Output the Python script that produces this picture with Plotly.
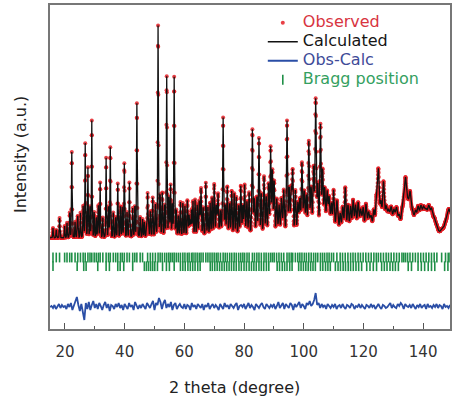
import numpy as np
import plotly.graph_objects as go

# ---------------- data ----------------
# Phase 1 reflections: 2theta (deg) and peak intensity (a.u.)
phase1_pos = [16.0, 17.1, 18.2, 19.9, 20.7, 21.6, 22.3, 23.4, 24.3, 25.2, 26.1, 26.8, 27.7, 28.4,
              29.0, 29.8, 30.5, 31.2, 31.8, 32.7, 33.8, 34.6, 35.2, 36.2, 37.0, 37.7, 38.6, 39.2,
              39.9, 40.8, 41.6, 42.7, 43.4, 44.1, 45.2, 46.0, 47.7, 48.6, 49.4, 50.3, 51.2, 51.9,
              52.6, 53.4, 54.1, 54.8, 55.4, 56.0, 56.6, 57.3, 58.0, 58.7, 59.5, 60.2, 61.0, 61.6,
              62.4, 62.9, 63.6, 64.3, 65.0, 65.6, 66.3, 67.2, 67.9, 68.6, 69.3, 70.0, 70.7, 71.3,
              72.1, 73.0, 73.7, 74.4, 75.2, 75.9, 76.7, 77.4, 78.2, 78.9, 79.6, 80.2, 81.0, 81.7,
              82.8, 83.5, 84.3, 85.0, 85.8, 86.7, 87.4, 88.2, 88.9, 89.5, 90.1, 90.9, 91.7, 92.5,
              93.3, 94.4, 95.1, 95.8, 96.3, 97.2, 98.0, 98.7, 99.4, 100.2, 100.9, 101.7, 102.5,
              103.3, 104.0, 104.7, 105.6, 106.3, 107.0, 107.8, 108.5, 109.3, 110.0, 111.1, 112.2,
              113.0, 113.9, 114.8, 115.7, 116.5, 117.3, 118.2, 119.0, 119.9, 120.8, 121.7, 122.6,
              123.5, 124.3, 125.0, 125.8, 126.7, 127.6, 128.4, 129.3, 130.2, 131.1, 132.0, 132.9,
              133.5, 134.1, 134.8, 135.6, 136.5, 137.4, 138.3, 139.2, 140.1, 141.0, 141.9, 142.8,
              143.7, 144.6, 146.2, 147.5, 148.4, 149.0]
phase1_int = [60, 80, 200, 120, 150, 250, 860, 160, 200, 250, 300, 940, 700, 300,
              1170, 250, 200, 300, 550, 200, 760, 300, 900, 250, 200, 500, 220, 300,
              730, 250, 550, 250, 300, 1340, 200, 180, 430, 200, 250, 300, 2100, 400,
              350, 300, 1570, 350, 500, 300, 1550, 250, 200, 280, 200, 250, 330, 200,
              250, 300, 250, 280, 330, 460, 280, 530, 280, 230, 330, 480, 280, 400,
              230, 1170, 280, 440, 280, 330, 370, 280, 230, 440, 280, 470, 280, 330,
              1040, 280, 330, 900, 280, 520, 280, 420, 860, 620, 520, 280, 250, 330,
              420, 1090, 380, 420, 590, 430, 280, 320, 680, 370, 320, 880, 370,
              580, 1290, 450, 1010, 500, 400, 360, 320, 270, 420, 300, 150,
              200, 400, 200, 200, 240, 220, 260, 200, 230, 250, 180, 130,
              170, 250, 600, 250, 450, 200, 180, 200, 180, 200, 130, 170,
              200, 470, 200, 350, 160, 190, 170, 200, 190, 170, 200, 170,
              100, 60, 40, 60, 120, 150]

# Phase 2 reflections
phase2_pos = [16.0, 24.1, 26.3, 27.1, 31.0, 33.8, 34.9, 37.7, 38.5, 39.7, 42.7, 46.6, 47.3, 48.0,
              48.7, 49.4, 50.1, 51.0, 52.7, 54.0, 55.0, 56.6, 58.7, 59.5, 60.3, 61.2, 62.0, 62.8,
              63.6, 64.5, 65.3, 68.7, 69.4, 70.2, 71.0, 71.8, 72.6, 73.4, 74.2, 75.0, 75.8, 76.6,
              77.4, 78.3, 79.1, 80.0, 80.8, 81.7, 82.5, 83.3, 84.1, 85.0, 85.8, 86.6, 87.5, 88.3,
              91.1, 91.9, 92.8, 93.6, 94.4, 95.3, 96.1, 98.3, 99.1, 99.9, 100.7, 101.5, 102.3,
              103.1, 103.9, 105.6, 106.4, 107.3, 108.1, 108.9, 110.6, 111.5, 112.3, 113.2, 114.0,
              114.9, 115.7, 116.6, 117.5, 118.4, 119.4, 121.1, 122.2, 123.3, 124.4, 126.1, 127.0,
              127.9, 128.9, 129.8, 130.7, 131.7, 135.0, 136.1, 138.3, 139.4, 140.5, 141.7, 142.8,
              143.9, 147.2, 148.3]
phase2_int = [40, 120, 90, 60, 110, 40, 50, 40, 130, 60, 40, 150, 90, 120,
              80, 140, 60, 40, 120, 40, 90, 40, 60, 130, 70, 90, 150, 60,
              110, 80, 130, 120, 60, 90, 130, 70, 110, 60, 120, 90, 140, 60,
              100, 80, 120, 70, 110, 90, 60, 130, 80, 60, 120, 70, 110, 90,
              130, 80, 110, 60, 40, 120, 70, 100, 60, 130, 80, 60, 110,
              90, 40, 60, 120, 80, 110, 70, 60, 80, 40, 70, 50,
              70, 50, 80, 60, 40, 70, 50, 70, 50, 60, 40, 60,
              50, 70, 40, 60, 40, 50, 40, 60, 40, 50, 40, 40,
              30, 30, 40]

# Background level under the pattern
bg_angle = [15, 25, 35, 45, 55, 65, 75, 85, 95, 105, 115, 125, 135, 145, 150]
bg_int = [20, 15, 15, 20, 25, 30, 30, 35, 35, 40, 60, 60, 60, 50, 50]

# Obs - Calc difference, every 0.5 deg from 15 to 149
diff_start, diff_step = 15.0, 0.5
diff_vals = [0, 10, -10, 20, -20, 10, 30, -10, 20, 0,
             10, -20, 30, 0, 40, -30, 20, 60, 100, 20,
             -40, 30, -60, -130, 40, -20, 50, -30, 20, 60,
             -10, 30, -20, 40, 10, -30, 20, 50, -10, 30,
             -40, 20, 10, -20, 30, 0, 40, -10, 20, -30,
             30, 10, -20, 40, 0, 20, -30, 50, 10, -20,
             20, -10, 30, 0, -20, 40, 20, -10, 30, 60,
             -30, 40, 20, 90, 50, -20, 40, 70, -10, 30,
             0, 50, -30, 20, 40, -20, 10, 30, 0, -10,
             30, -20, 20, 10, -30, 40, 0, 20, -20, 30,
             10, -10, 30, -30, 20, 0, 40, -20, 10, 30,
             -10, 20, 0, -30, 30, 10, -20, 40, 0, 20,
             -20, 30, 10, -10, 20, 40, -30, 10, 20, 0,
             30, -20, 10, 40, -10, 20, 0, -30, 30, 10,
             -10, 20, 40, 0, -20, 30, 10, -10, 20, 0,
             30, -20, 10, 50, -10, 20, 40, -20, 30, 10,
             -10, 40, 20, -30, 30, 0, 20, 50, -10, 30,
             10, -20, 40, 20, 60, 10, 30, 70, 140, 20,
             40, -10, 30, 0, 20, -20, 30, 10, -10, 20,
             0, 30, -20, 10, 20, -10, 30, 0, -20, 20,
             10, -10, 30, 20, -20, 10, 0, 30, -10, 20,
             0, -20, 20, 10, -10, 30, 0, 20, -20, 10,
             30, 0, -20, 20, 10, -10, 0, 20, 40, -10,
             20, 0, -10, 30, 10, 40, 20, -20, 30, 10,
             0, 20, -10, 30, 10, -20, 20, 0, 30, -10,
             10, 20, -20, 30, 0, 10, -10, 20, 0, 30,
             -10, 20, 10, -20, 30, 0, 10, -10, 20]

# Caglioti profile parameters (U, V, W) and pseudo-Voigt mixing
U, V, W, ETA = 0.10, 0.0, 0.05, 0.3
DIFF_OFFSET = -670
BRAGG_ROW1, BRAGG_ROW2 = -175, -262
step = 0.05

# ---------------- profile model ----------------
tt = np.arange(15.0, 149.0 + 1e-9, step)
bg = np.interp(tt, bg_angle, bg_int)
calc = bg.copy()
for pos_list, int_list in ((phase1_pos, phase1_int), (phase2_pos, phase2_int)):
    for p, h in zip(pos_list, int_list):
        t = np.tan(np.radians(p / 2))
        H = np.sqrt(U * t * t + V * t + W)
        x = (tt - p) / H
        g = np.exp(-4 * np.log(2) * x * x)
        l = 1 / (1 + 4 * x * x)
        calc += h * (ETA * l + (1 - ETA) * g)

diff_x = diff_start + diff_step * np.arange(len(diff_vals))
diff_y = np.array(diff_vals) + DIFF_OFFSET

GREEN = "#1f8f47"
fig = go.Figure()
fig.add_trace(go.Scatter(
    x=tt, y=calc, mode="markers",
    marker=dict(color="#e41f26", size=4, opacity=0.85),
    name='<span style="color:#d8343f;font-size:16px">Observed</span>'))
fig.add_trace(go.Scatter(
    x=tt, y=calc, mode="lines", line=dict(color="#111111", width=1.3),
    name='<span style="color:#151515;font-size:16px">Calculated</span>'))
fig.add_trace(go.Scatter(
    x=diff_x, y=diff_y, mode="lines", line=dict(color="#2a4ea6", width=1.8),
    name='<span style="color:#3e4b98;font-size:16px">Obs-Calc</span>'))
fig.add_trace(go.Scatter(
    x=phase1_pos, y=[BRAGG_ROW1] * len(phase1_pos), mode="markers",
    marker=dict(symbol="line-ns-open", size=7, color=GREEN, line=dict(color=GREEN, width=1.6)),
    name='<span style="color:#34a060;font-size:16px">Bragg position</span>', legendgroup="bragg"))
fig.add_trace(go.Scatter(
    x=phase2_pos, y=[BRAGG_ROW2] * len(phase2_pos), mode="markers",
    marker=dict(symbol="line-ns-open", size=7, color=GREEN, line=dict(color=GREEN, width=1.6)),
    showlegend=False, legendgroup="bragg"))

fig.update_layout(
    width=455, height=404,
    margin=dict(l=50, r=3, t=5, b=75),
    paper_bgcolor="white", plot_bgcolor="white",
    font=dict(family="DejaVu Sans", size=15, color="#222"),
    showlegend=True,
    legend=dict(x=0.532, xanchor="left", y=0.99, yanchor="top",
                bgcolor="rgba(0,0,0,0)", borderwidth=0,
                font=dict(size=11.5, family="DejaVu Sans"),
                tracegroupgap=0, itemwidth=30),
    xaxis=dict(range=[15, 149], tickmode="linear", tick0=20, dtick=20,
               ticks="inside", ticklen=6, tickcolor="#555", tickwidth=1,
               showline=True, linecolor="#777", linewidth=1.5, mirror=True,
               showgrid=False, zeroline=False, ticklabelstandoff=8,
               tickfont=dict(size=15, color="#333"),
               minor=dict(ticks="inside", dtick=10, ticklen=3, tickcolor="#555", showgrid=False)),
    yaxis=dict(range=[-890, 2350], showticklabels=False, ticks="",
               showline=True, linecolor="#777", linewidth=1.5, mirror=True,
               showgrid=False, zeroline=False),
    annotations=[
        dict(text="Intensity (a.u.)", xref="paper", yref="paper", x=-0.075, y=0.537,
             xanchor="center", yanchor="middle",
             textangle=-90, showarrow=False, font=dict(size=16, color="#222")),
        dict(text="2 theta (degree)", xref="paper", yref="paper", x=0.46, y=-0.18,
             xanchor="center", yanchor="middle",
             showarrow=False, font=dict(size=16, color="#222")),
    ],
)

fig.write_html("out.html", config={"displayModeBar": False},
               post_script="document.body.style.margin='0px';")
